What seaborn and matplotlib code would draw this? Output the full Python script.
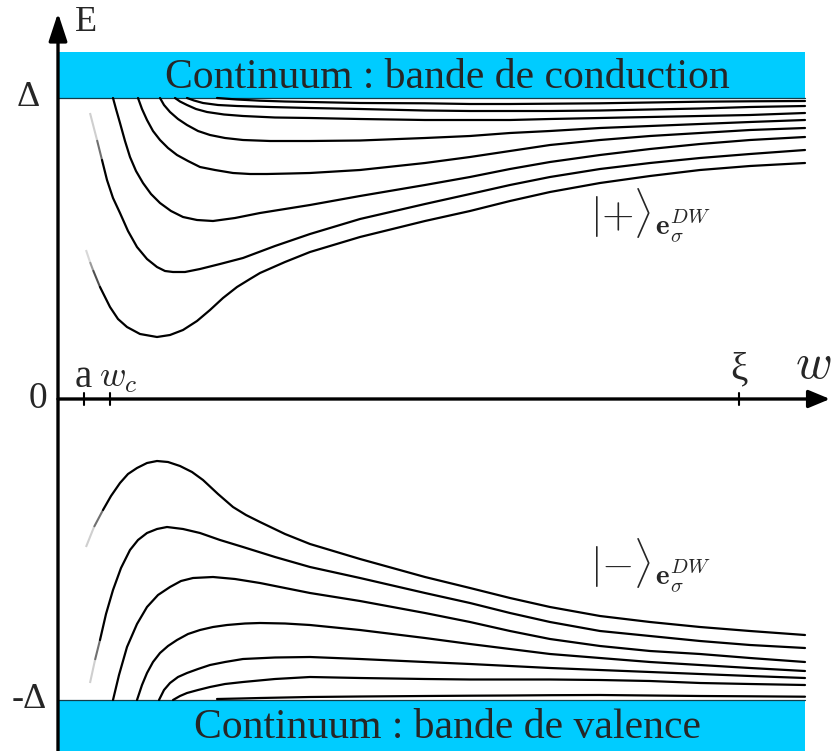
"""
Schematic of the domain-wall bound states |+> and |-> versus the wall
width w, between the conduction and valence continua (+/- Delta).
"""

import matplotlib.pyplot as plt
import pandas as pd
import seaborn as sns

# ── Reference values (w in axis units, E in axis units; Delta = 3.01) ─────────
DELTA = 3.01
W_A = 0.26
W_C = 0.52
XI = 6.81
W_END = 7.47
BAND_TOP = 3.47

# shared w positions for the slowly varying right-hand tails
TAIL_W = [2.52, 3.02, 3.67, 4.12, 4.52, 4.92, 5.42, 5.92, 6.42, 6.92, 7.47]

# Upper branch |+> : head (left part) + tail values
plus_w1 = [1.59, 1.79, 2.02, 2.27]
plus_e1 = [3.01, 2.995, 2.983, 2.975]
plus_t1 = [2.97, 2.96, 2.957, 2.95, 2.95, 2.953, 2.957, 2.965, 2.973, 2.977, 2.98]

plus_w2 = [1.29, 1.36, 1.45, 1.60, 1.79, 2.12]
plus_e2 = [3.01, 2.985, 2.96, 2.94, 2.93, 2.92]
plus_t2 = [2.91, 2.90, 2.885, 2.88, 2.88, 2.88, 2.885, 2.895, 2.905, 2.92, 2.93]

plus_w3 = [1.17, 1.22, 1.29, 1.38, 1.49, 1.66, 1.85, 2.17]
plus_e3 = [3.01, 2.975, 2.94, 2.90, 2.87, 2.845, 2.83, 2.815]
plus_t3 = [2.81, 2.80, 2.79, 2.79, 2.79, 2.80, 2.81, 2.82, 2.83, 2.84, 2.86]

plus_w4 = [1.02, 1.06, 1.12, 1.20, 1.29, 1.40, 1.52, 1.67, 1.85, 2.12]
plus_e4 = [3.01, 2.94, 2.87, 2.80, 2.74, 2.68, 2.64, 2.61, 2.59, 2.58]
plus_t4 = [2.58, 2.585, 2.61, 2.63, 2.66, 2.68, 2.71, 2.73, 2.75, 2.77, 2.79]

plus_w5 = [0.80, 0.84, 0.89, 0.95, 1.02, 1.10, 1.19, 1.30, 1.42, 1.57, 1.75, 1.92, 2.09, 2.32]
plus_e5 = [3.01, 2.90, 2.79, 2.68, 2.59, 2.51, 2.44, 2.38, 2.32, 2.29, 2.26, 2.25, 2.25, 2.255]
plus_t5 = [2.26, 2.29, 2.36, 2.42, 2.48, 2.54, 2.59, 2.63, 2.66, 2.69, 2.71]

plus_w6 = [0.55, 0.58, 0.62, 0.67, 0.72, 0.78, 0.85, 0.93, 1.02, 1.13, 1.25, 1.39, 1.55, 1.77, 2.02, 2.27]
plus_e6 = [3.01, 2.90, 2.76, 2.58, 2.42, 2.28, 2.16, 2.05, 1.96, 1.88, 1.82, 1.79, 1.78, 1.81, 1.86, 1.90]
plus_t6 = [1.94, 2.03, 2.14, 2.22, 2.30, 2.37, 2.44, 2.50, 2.55, 2.59, 2.62]

plus_w7 = [0.32, 0.39, 0.44, 0.49, 0.55, 0.62, 0.70, 0.79, 0.89, 0.99, 1.07, 1.15, 1.27, 1.42, 1.62, 1.85, 2.17]
plus_e7 = [2.86, 2.59, 2.39, 2.19, 2.01, 1.86, 1.68, 1.52, 1.40, 1.32, 1.28, 1.27, 1.27, 1.30, 1.35, 1.41, 1.53]
plus_t7 = [1.65, 1.80, 1.95, 2.05, 2.14, 2.22, 2.30, 2.36, 2.41, 2.45, 2.49]

plus_w8 = [0.28, 0.32, 0.35, 0.42, 0.52, 0.60, 0.69, 0.82, 0.99, 1.12, 1.25, 1.39, 1.52, 1.65, 1.79, 1.92, 2.02, 2.27]
plus_e8 = [1.49, 1.37, 1.29, 1.12, 0.92, 0.80, 0.72, 0.65, 0.62, 0.64, 0.69, 0.78, 0.89, 1.01, 1.12, 1.20, 1.26, 1.37]
plus_t8 = [1.47, 1.62, 1.78, 1.88, 1.98, 2.07, 2.16, 2.23, 2.29, 2.33, 2.36]

# Lower branch |->
minus_w1 = [0.28, 0.36, 0.45, 0.53, 0.62, 0.70, 0.79, 0.89, 0.99, 1.10, 1.22, 1.34, 1.45, 1.60, 1.75, 1.88, 2.02, 2.27]
minus_e1 = [-1.48, -1.28, -1.11, -0.97, -0.84, -0.75, -0.69, -0.64, -0.62, -0.63, -0.67, -0.73, -0.81, -0.95, -1.08, -1.16, -1.23, -1.35]
minus_t1 = [-1.45, -1.60, -1.78, -1.89, -1.99, -2.08, -2.17, -2.23, -2.28, -2.32, -2.36]

minus_w2 = [0.32, 0.37, 0.42, 0.48, 0.55, 0.63, 0.72, 0.80, 0.89, 0.99, 1.09, 1.25, 1.42, 1.62, 1.85, 2.17]
minus_e2 = [-2.84, -2.61, -2.41, -2.15, -1.91, -1.69, -1.51, -1.41, -1.34, -1.30, -1.28, -1.30, -1.34, -1.41, -1.48, -1.58]
minus_t2 = [-1.68, -1.79, -1.94, -2.04, -2.14, -2.23, -2.32, -2.37, -2.42, -2.46, -2.49]

minus_w3 = [0.55, 0.61, 0.69, 0.79, 0.89, 1.00, 1.12, 1.23, 1.35, 1.55, 1.77, 2.02, 2.27]
minus_e3 = [-3.01, -2.76, -2.48, -2.25, -2.08, -1.96, -1.88, -1.82, -1.79, -1.78, -1.80, -1.84, -1.89]
minus_t3 = [-1.94, -2.02, -2.14, -2.23, -2.32, -2.40, -2.47, -2.52, -2.55, -2.59, -2.63]

minus_w4 = [0.79, 0.84, 0.89, 0.95, 1.02, 1.10, 1.19, 1.30, 1.42, 1.55, 1.69, 1.87, 2.02, 2.27]
minus_e4 = [-3.01, -2.86, -2.74, -2.63, -2.54, -2.47, -2.41, -2.35, -2.31, -2.28, -2.26, -2.245, -2.24, -2.245]
minus_t4 = [-2.26, -2.31, -2.39, -2.45, -2.50, -2.55, -2.59, -2.63, -2.66, -2.69, -2.72]

minus_w5 = [1.01, 1.06, 1.12, 1.20, 1.29, 1.40, 1.52, 1.67, 1.85, 2.17]
minus_e5 = [-3.01, -2.91, -2.84, -2.78, -2.74, -2.70, -2.66, -2.63, -2.60, -2.585]
minus_t5 = [-2.58, -2.60, -2.63, -2.65, -2.67, -2.69, -2.71, -2.73, -2.75, -2.77, -2.79]

minus_w6 = [1.15, 1.22, 1.29, 1.40, 1.52, 1.67, 1.85, 2.17]
minus_e6 = [-3.01, -2.97, -2.94, -2.91, -2.88, -2.85, -2.83, -2.80]
minus_t6 = [-2.78, -2.79, -2.80, -2.805, -2.805, -2.805, -2.81, -2.82, -2.84, -2.85, -2.86]

minus_w7 = [1.59, 1.82, 2.02, 2.27]
minus_e7 = [-3.00, -2.995, -2.99, -2.985]
minus_t7 = [-2.98, -2.975, -2.97, -2.967, -2.965, -2.962, -2.96, -2.965, -2.97, -2.973, -2.977]

# (name, head w, head E, tail E, number of faded leading segments)
curves = [
    ("p1", plus_w1, plus_e1, plus_t1, 0), ("p2", plus_w2, plus_e2, plus_t2, 0),
    ("p3", plus_w3, plus_e3, plus_t3, 0), ("p4", plus_w4, plus_e4, plus_t4, 0),
    ("p5", plus_w5, plus_e5, plus_t5, 0), ("p6", plus_w6, plus_e6, plus_t6, 0),
    ("p7", plus_w7, plus_e7, plus_t7, 2), ("p8", plus_w8, plus_e8, plus_t8, 3),
    ("m1", minus_w1, minus_e1, minus_t1, 2), ("m2", minus_w2, minus_e2, minus_t2, 2),
    ("m3", minus_w3, minus_e3, minus_t3, 0), ("m4", minus_w4, minus_e4, minus_t4, 0),
    ("m5", minus_w5, minus_e5, minus_t5, 0), ("m6", minus_w6, minus_e6, minus_t6, 0),
    ("m7", minus_w7, minus_e7, minus_t7, 0),
]

CYAN = "#00CCFF"
FADE_GREYS = {2: ["#cfcfcf", "#707070"], 3: ["#d8d8d8", "#9a9a9a", "#505050"]}

# ── Figure ────────────────────────────────────────────────────────────────────
sns.set_style("white")
plt.rcParams["font.family"] = ["Liberation Serif", "DejaVu Serif"]
plt.rcParams["mathtext.fontset"] = "cm"

fig = plt.figure(figsize=(8.33, 7.51), dpi=100)
ax = fig.add_axes([0, 0, 1, 1])
ax.set_xlim(-0.58, 7.75)
ax.set_ylim(-3.52, 3.99)
ax.axis("off")

# continuum bands
ax.fill_between([0, W_END], DELTA, BAND_TOP, color=CYAN, lw=0, zorder=1)
ax.fill_between([0, W_END], -3.6, -DELTA, color=CYAN, lw=0, zorder=1)
ax.plot([0, W_END], [DELTA, DELTA], color="#123c48", lw=0.9, zorder=2)
ax.plot([0, W_END], [-DELTA, -DELTA], color="#123c48", lw=0.9, zorder=2)

# bound-state curves
rows = []
for name, hw, he, te, n_fade in curves:
    w = hw + TAIL_W
    e = he + te
    for i in range(n_fade):
        ax.plot(w[i:i + 2], e[i:i + 2], color=FADE_GREYS[n_fade][i],
                lw=1.5, solid_capstyle="butt", zorder=3)
    for wi, ei in zip(w[n_fade:], e[n_fade:]):
        rows.append({"curve": name, "w": wi, "E": ei})
df = pd.DataFrame(rows)

sns.lineplot(
    data=df, x="w", y="E", units="curve", estimator=None, sort=False,
    color="black", lw=1.6, legend=False, ax=ax, zorder=3,
)

# axes with arrows
ax.annotate(
    "", xy=(0, 3.86), xytext=(0, -3.52),
    arrowprops=dict(arrowstyle="-|>,head_length=0.85,head_width=0.28",
                    mutation_scale=20, lw=2.4, color="black",
                    shrinkA=0, shrinkB=0),
    zorder=5,
)
ax.annotate(
    "", xy=(7.72, 0), xytext=(0, 0),
    arrowprops=dict(arrowstyle="-|>,head_length=0.65,head_width=0.27",
                    mutation_scale=20, lw=2.4, color="black",
                    shrinkA=0, shrinkB=0),
    zorder=5,
)
for wt in [W_A, W_C, XI]:
    ax.plot([wt, wt], [-0.06, 0.06], color="black", lw=1.5, zorder=5)

# labels
ax.text(0.28, 3.76, "E", fontsize=26, ha="center", va="center")
ax.text(-0.30, DELTA, "Δ", fontsize=26, ha="center", va="center")
ax.text(-0.20, 0.0, "0", fontsize=27, ha="center", va="center")
ax.text(-0.29, -DELTA, "-Δ", fontsize=26, ha="center", va="center")
ax.text(W_A - 0.01, 0.12, "a", fontsize=28, ha="center", va="baseline")
ax.text(0.41, 0.12, r"$w_c$", fontsize=26, ha="left", va="baseline")
ax.text(XI, 0.20, "ξ", fontsize=28, ha="center", va="baseline")
ax.text(7.55, 0.33, r"$w$", fontsize=36, ha="center", va="center")

ax.text(5.32, 1.71, r"$|{+}\rangle_{\mathbf{e}_\sigma^{DW}}$",
        fontsize=30, ha="left", va="baseline")
ax.text(5.32, -1.79, r"$|{-}\rangle_{\mathbf{e}_\sigma^{DW}}$",
        fontsize=30, ha="left", va="baseline")

ax.text(3.89, 3.21, "Continuum : bande de conduction",
        fontsize=30, ha="center", va="center", zorder=4)
ax.text(3.89, -3.29, "Continuum : bande de valence",
        fontsize=30, ha="center", va="center", zorder=4)

fig.savefig("out.png", dpi=100)
plt.close(fig)
